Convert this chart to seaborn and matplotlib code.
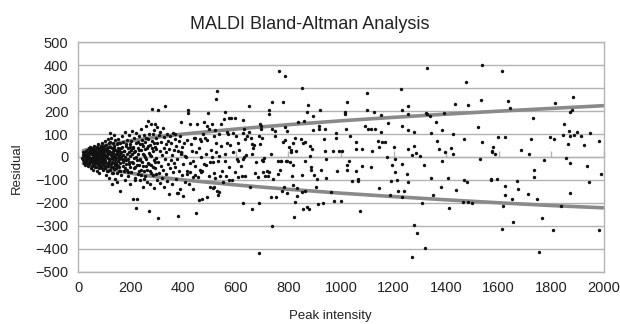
import numpy as np
import pandas as pd
import matplotlib
matplotlib.use("Agg")
import matplotlib.pyplot as plt
import seaborn as sns

# Punkte (Peak intensity, Residual)
peak = [
    # 15-100
    16, 18, 20, 22, 24, 25, 27, 28, 30, 31, 33, 34, 36, 37, 38, 40, 40,
    42, 43, 45, 46, 47, 48, 50, 51, 52, 53, 55, 56, 57, 58, 60, 61, 62, 63, 64, 65, 66, 67, 68, 69, 70,
    71, 72, 73, 74, 75, 76, 77, 78, 79, 80, 81, 82, 83, 84, 85, 86, 87, 88, 89, 90, 91, 92, 93, 94, 95,
    96, 97, 98, 99, 100, 62, 58, 85, 75, 95, 68, 52, 80, 88, 92,
    19, 21, 23, 26, 29, 32, 35, 39, 41, 44, 47, 49, 53, 54, 57, 59, 61, 64, 66, 69, 71, 73, 74, 77, 79,
    81, 83, 86, 88, 90, 91, 93, 96, 98, 99,
    # 100-200
    101, 102, 103, 104, 105, 106, 107, 108, 109, 110, 111, 112, 113, 114, 115, 116, 117, 118, 119, 120,
    121, 122, 123, 124, 125, 126, 127, 128, 129, 130,
    131, 132, 133, 134, 135, 136, 137, 138, 139, 140, 141, 142, 143, 144, 145, 146, 147, 148, 149, 150,
    151, 152, 153, 154, 155, 156, 157, 158, 159, 160,
    161, 163, 164, 166, 167, 168, 170, 171, 172, 174, 175, 176, 178, 179, 180, 182, 183, 185, 186, 187,
    189, 190, 191, 193, 194, 196, 197, 198, 199, 200,
    102, 104, 106, 108, 110, 112, 114, 116, 118, 120, 123, 125, 127, 129, 131, 133, 135, 137, 139, 142,
    144, 146, 148, 150, 152, 154, 157, 160, 162, 165, 169, 173, 177, 181, 184, 188, 192, 195, 198,
    # 200-300
    202, 203, 205, 206, 208, 209, 210, 212, 213, 215, 216, 218, 219, 221, 222, 224, 225, 226, 228, 229,
    231, 232, 234, 235, 237, 238, 240, 241, 243, 244, 246, 247, 249, 250,
    252, 253, 255, 256, 258, 259, 261, 262, 264, 265, 266, 268, 269, 270, 272, 273, 275, 276, 278, 279,
    281, 282, 284, 285, 287, 288, 290, 291, 293, 294, 296, 297, 299, 300,
    204, 207, 211, 214, 217, 220, 223, 227, 230, 233, 236, 239, 242, 245, 248, 251, 254, 257, 260, 263,
    267, 271, 274, 277, 280, 283, 286, 289, 292, 295, 298,
    # 300-400
    301, 302, 304, 305, 307, 308, 310, 311, 313, 315, 316, 318, 320, 321, 323, 325, 326, 328, 330, 331,
    333, 335, 336, 338, 340, 342, 343, 345, 347, 349,
    351, 353, 355, 356, 358, 360, 362, 364, 366, 367, 369, 369, 371, 373, 375, 377, 379, 381, 381, 383,
    385, 387, 389, 391, 392, 393, 395, 397, 398, 400,
    # 400-500
    403, 405, 408, 411, 413, 416, 416, 419, 419, 420, 424, 427, 427, 430, 432, 436, 436, 438, 440, 443,
    446, 446, 449, 450, 453, 455, 458, 460, 462, 465, 467, 467, 469, 471, 473, 476, 478, 480, 483, 486,
    488, 490, 492, 492, 494, 496, 498, 500,
    # 500-600
    501, 505, 508, 509, 512, 512, 515, 516, 518, 521, 522, 523, 524, 526, 527, 530, 534, 534, 535, 536,
    537, 539, 542, 545, 549, 553, 555, 558, 560, 560, 562, 565, 568, 571, 573, 573, 575, 578, 583, 585,
    588, 590, 596, 598,
    # 600-700
    600, 604, 607, 607, 608, 612, 620, 623, 627, 628, 629, 629, 631, 632, 634, 636, 637, 642, 649, 651,
    655, 658, 660, 661, 662, 665, 670, 671, 675, 684, 688, 689, 689, 691, 691, 694, 697, 698, 699, 702,
    # 700-800
    703, 708, 710, 718, 724, 727, 727, 728, 732, 733, 738, 739, 739, 740, 749, 749, 751, 760, 761, 765,
    767, 770, 771, 776, 778, 779, 782, 786, 786, 787, 789, 793, 796, 796,
    # 800-900
    802, 806, 811, 811, 815, 817, 818, 818, 820, 824, 824, 830, 833, 833, 835, 848, 850, 852, 853, 855,
    857, 860, 862, 862, 862, 869, 871, 874, 878, 882, 882, 885, 885, 890, 892, 893, 897,
    # 900-1000
    904, 909, 911, 915, 915, 919, 923, 930, 934, 940, 941, 943, 943, 963, 969, 972, 982, 982, 985, 992,
    1000,
    # 1000-1200
    1003, 1015, 1015, 1019, 1022, 1022, 1024, 1030, 1033, 1042, 1057, 1057, 1058, 1064, 1064, 1071, 1080,
    1081, 1090, 1099, 1100,
    1103, 1113, 1114, 1118, 1127, 1130, 1139, 1143, 1144, 1151, 1152, 1155, 1167, 1176, 1180, 1187, 1189,
    1195, 1200,
    # 1200-1600
    1206, 1206, 1214, 1218, 1229, 1232, 1233, 1233, 1233, 1240, 1251, 1256, 1256, 1256, 1256, 1256, 1269,
    1270, 1276, 1276, 1279, 1285, 1289, 1300, 1310, 1315, 1318, 1323, 1327, 1327, 1337, 1341, 1342, 1349,
    1361, 1365, 1371, 1379, 1384, 1385, 1392, 1397, 1408, 1412, 1419, 1426, 1427, 1435, 1437, 1464, 1466,
    1469, 1475, 1478, 1485, 1485, 1497, 1520, 1527, 1531, 1537, 1537, 1569, 1569, 1574, 1579,
    # 1570-2000
    1575, 1587, 1592, 1596, 1612, 1613, 1617, 1622, 1622, 1624, 1636, 1641, 1651, 1653, 1668, 1673, 1686,
    1711, 1716, 1724, 1730, 1733, 1736, 1745, 1755, 1764, 1771, 1795, 1806, 1809, 1815, 1838, 1844, 1850,
    1855, 1863, 1867, 1871, 1871, 1871, 1871, 1877, 1882, 1886, 1897, 1913, 1923, 1934, 1945, 1947, 1982,
    1982, 1988,
]

residual = [
    # 15-100
    -5, 8, -12, 15, -28, 2, 22, -35, 10, -18, 30, -8, 5, -40, 18, -22, 38,
    2, -30, 25, -12, 45, -48, 12, -3, 32, -20, -55, 8, 40, -35, 20, -8, 50, -15, 28, -42, 3, 35, -25, 15, -60,
    42, -10, 22, -32, 5, 55, -18, 30, -48, 12, -70, 38, -5, 25, -28, 48, 0, -40, 18, 60, -15, 33, -55, 8, -22,
    45, -8, 28, -35, 15, -5, 10, 5, -2, 2, -2, -6, -12, 10, -2,
    20, -25, 5, -15, 28, -2, -25, 12, -8, 18, -20, 35, -38, 22, -12, -30, 30, -22, 18, -45, 10, -28, 40, 2, 25,
    -35, 15, -20, 32, -50, 5, 20, -30, 0, 50,
    # 100-200
    -48, 70, -12, 35, -80, 5, 52, -25, 22, -62, 40, -5, 78, -38, 15, -18, 60, -90, 28, -8,
    45, 105, -55, 10, -30, 85, 0, -118, 38, -20,
    62, -42, 18, -70, 95, 5, -28, 48, -12, 30, -95, 72, -50, 12, -5, 55, -35, 25, -110, 40,
    -18, 8, 80, -62, -2, 35, -45, 15, -148, 60,
    -25, 20, -80, 45, -8, 92, -40, 10, 65, -60, 28, -15, 110, -100, 2, 50, -30, 75, -55, 15,
    -10, 38, -85, 95, -20, 58, -42, 5, -120, 30,
    -20, 8, -38, 30, 0, -60, 18, 45, -30, 65, 22, -45, 12, -70, 25, -10, -52, 40, -35, 2,
    -25, 18, -72, 60, -40, 28, -10, -60, 40, 0, -20, 25, -50, 55, -12, -65, 20, -30, 45,
    # 200-300
    70, -65, 12, 112, -25, 45, -185, -5, 85, -90, 25, -45, 60, -222, 105, -12, -185, 40, -75, 15,
    90, -35, 55, -100, -8, 120, -55, 30, 75, -20, -130, 48, 95, -60,
    10, 65, -85, -2, 135, -40, 38, -110, 80, 155, -25, 18, -235, 100, -60, 52, -120, 5, 143, -35,
    209, 70, -80, 28, -15, 118, -135, 45, 146, -50, 85, -5, -100, 60,
    -20, 40, -50, 20, -100, 0, -35, 65, -60, 30, -15, -80, 55, -40, 15, -95, 35, -10, 85, -55,
    50, -30, 10, -70, 40, 100, -45, 60, -20, -75, 35,
    # 300-400
    131, 204, -20, -265, 95, -70, 25, -115, 110, -40, 65, -90, 8, 125, -55, 40, -130, 88, -10, 223,
    55, -75, 20, 100, -105, -30, 70, -160, 35, -50,
    90, -15, 60, -120, 10, 105, -65, 30, -25, 80, 100, -42, -95, 50, -8, -158, 25, -257, -159, 70,
    -60, 91, -140, 15, 151, 23, -80, 45, -30, -170,
    # 400-500
    60, -110, 5, 0, 75, -60, -75, 204, 191, -120, -64, 142, -25, 55, 26, -16, -140, -89, 85, -40,
    -80, 84, -245, 20, 142, -89, -188, 40, 77, -55, 70, -67, -1, -185, -61, 99, 152, -30, 84, -37,
    15, 136, 75, -173, 190, 123, -85, -20,
    # 500-600
    -132, 30, -2, 145, -22, -136, -72, 91, -129, 116, -93, 23, 62, 255, -147, 287, -19, -166, 101, 3,
    -151, -83, 142, 50, -61, -110, 165, 15, 198, -16, -83, 61, 109, 99, 168, -102, -45, 52, 168, -102,
    20, 105, 172, -65,
    # 600-700
    91, -8, -19, 61, -89, 30, -40, -83, -11, 161, -200, 105, 124, -1, 80, -84, 10, 91, 222, 111,
    -130, 84, 56, -228, 13, 38, 52, -68, -20, -89, -200, -418, 91, 142, 55, 122, 135, -14, 85, -64,
    # 700-800
    -19, -6, -81, -60, -81, 207, 188, -67, -175, 13, -302, 122, 239, -96, 113, 92, -175, -16, -74, 375,
    -56, -16, -16, -150, 239, 66, -129, 72, 129, 353, -16, -158, 112, -16,
    # 800-900
    44, -23, 30, 22, -83, -37, 59, -122, -263, 81, -196, 28, -134, -171, 153, 77, -155, -79, 300, -228,
    60, 156, 66, -19, -150, 198, -219, 229, -229, 48, 6, -42, -56, 36, 178, 116, -79,
    # 900-1000
    -133, -96, -206, 135, 120, 207, -56, -199, 77, 120, 28, -10, -93, -153, 28, -190, 103, 85, -60, 26,
    -190,
    # 1000-1200
    26, 198, 187, 124, -58, -34, 240, -19, 92, -106, 65, 33, -60, -96, -103, -236, 33,
    -38, 136, 204, 278,
    124, -45, 124, 28, 198, 122, 70, -137, 44, 184, 107, 64, 67, 0, 149, -168, -107,
    -36, 43,
    # 1200-1600
    -10, -67, -100, -148, 297, -174, 207, 137, -30, -150, -73, 223, 187, 117, 35, -110, -436,
    10, 110, -297, 46, 17, -332, 4, -203, -35, -399, 194, 390, 187, 177, 106, -91, -167,
    151, 70, 35, -130, 116, -18, 191, 22, -93, -223, 39, 101, 13, 233, -143, -198, -100,
    80, 329, -111, 227, -197, -200, 132, -10, 250, 401, 65, -94, -100, 24, 42,
    # 1570-2000
    23, 13, -97, 87, -316, 374, -213, -128, -165, 87, 243, 214, -184, -283, -106, -139, 30,
    -161, 11, 80, 170, -86, -58, -184, -417, -268, -13, 86, -319, 79, 236, -216, 97, 143,
    -4, 55, 113, 198, 91, -25, -156, 203, 262, 97, 111, 92, 53, -41, -108, 104, 71,
    -317, -73,
]

band_x = [20, 50, 100, 200, 300, 400, 600, 800, 1000, 1200, 1400, 1600, 1800, 2000]
band_upper = [28, 37, 50, 71, 87, 100, 122, 141, 158, 173, 187, 200, 212, 224]
band_lower = [-28, -37, -50, -71, -87, -100, -122, -141, -158, -173, -187, -200, -212, -222]

x_ticks = list(range(0, 2001, 200))
y_ticks = list(range(-500, 501, 100))

assert len(peak) == len(residual), (len(peak), len(residual))

df = pd.DataFrame({"peak": peak, "residual": residual})
band = pd.DataFrame({"x": band_x, "upper": band_upper, "lower": band_lower})

sns.set_style("white")
plt.rcParams["font.family"] = ["Liberation Sans", "DejaVu Sans"]

grid_col = "#b3b3b3"

fig = plt.figure(figsize=(6.2, 3.24), dpi=100)
ax = fig.add_axes([0.126, 0.162, 0.848, 0.707])

ax.set_xlim(0, 2000)
ax.set_ylim(-500, 500)
ax.set_yticks(y_ticks)
ax.set_xticks(x_ticks)
ax.yaxis.grid(True, color=grid_col, linewidth=1)
ax.xaxis.grid(False)
ax.set_axisbelow(True)

sns.lineplot(data=band, x="x", y="upper", ax=ax, color="#8a8a8a", linewidth=2.6, zorder=2)
sns.lineplot(data=band, x="x", y="lower", ax=ax, color="#8a8a8a", linewidth=2.6, zorder=2)
sns.scatterplot(data=df, x="peak", y="residual", ax=ax, color="#111111", s=6,
                linewidth=0, zorder=3)

for side in ["left", "right", "top", "bottom"]:
    ax.spines[side].set_color(grid_col)
    ax.spines[side].set_linewidth(1)

ax.tick_params(axis="both", which="major", direction="out", length=4, width=1,
               color=grid_col, labelsize=10.5, labelcolor="#222222", pad=3)

# Teilstriche auf der Nulllinie, ohne Beschriftung
zero_axis = ax.secondary_xaxis(0.5)
zero_axis.set_xticks(x_ticks, labels=[""] * len(x_ticks))
zero_axis.tick_params(direction="out", length=4, width=1, color=grid_col)
zero_axis.spines["bottom"].set_visible(False)

ax.set_title("MALDI Bland-Altman Analysis", fontsize=13, color="#222222", pad=10, x=0.44)
ax.set_xlabel("Peak intensity", fontsize=9.5, color="#222222")
ax.set_ylabel("Residual", fontsize=9.5, color="#222222")
ax.xaxis.set_label_coords(0.48, -0.17)
ax.yaxis.set_label_coords(-0.105, 0.45)

fig.savefig("out.png", dpi=100)
